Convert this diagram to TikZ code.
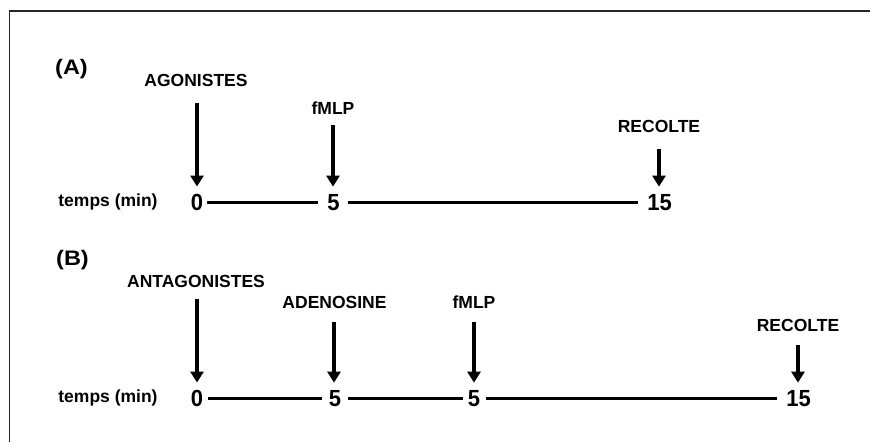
\documentclass[tikz,border=0pt]{standalone}
\usepackage{fontspec}
\setmainfont{Liberation Sans}
\usetikzlibrary{arrows.meta}
\tikzset{
  lbl/.style={font=\fontsize{17.5}{20}\selectfont\bfseries, inner sep=0pt},
  panel/.style={font=\fontsize{21}{24}\selectfont\bfseries, inner sep=0pt, xscale=1.12},
  digit/.style={font=\fontsize{22}{24}\selectfont\bfseries, inner sep=0pt, yscale=1.06},
  arr/.style={line width=3.5pt, -{Triangle[width=13pt,length=11pt]}},
  tline/.style={line width=3.5pt},
  frame/.style={line width=1.3pt, black!85}
}
\begin{document}
\begin{tikzpicture}[x=1pt,y=-1pt]
\useasboundingbox (0,0) rectangle (870,442);
% frame (left and top edges)
\coordinate (fb) at (9.5,442);
\coordinate (fc) at (9.5,11);
\coordinate (fr) at (870,11);
\draw[frame] (fb) -- (fc) -- (fr);

% ---------- Panel A ----------
\node[panel] (pA) at (71.5,69) {(A)};
\node[lbl] (tA) at (108,202) {temps (min)};
\node[lbl] (agon) at (196,80) {AGONISTES};
\node[lbl] (fmlpA) at (333,108) {fMLP};
\node[lbl] (recA) at (659,126) {RECOLTE};
\node[digit] (dA0) at (197,202.5) {0};
\node[digit] (dA1) at (333.5,202.5) {5};
\node[digit] (dA2) at (659.5,202.5) {15};
\coordinate (sA0) at (197,103);
\coordinate (sA1) at (333,125);
\coordinate (sA2) at (659,149);
\draw[arr, shorten >=7.5pt] (sA0) -- (sA0 |- dA0.north);
\draw[arr, shorten >=7.5pt] (sA1) -- (sA1 |- dA1.north);
\draw[arr, shorten >=7.5pt] (sA2) -- (sA2 |- dA2.north);
\draw[tline, shorten <=4pt, shorten >=9pt] (dA0.east) -- (dA1.west);
\draw[tline, shorten <=8pt, shorten >=9pt] (dA1.east) -- (dA2.west);

% ---------- Panel B ----------
\node[panel] (pB) at (72.5,260) {(B)};
\node[lbl] (tB) at (108,398) {temps (min)};
\node[lbl] (antag) at (196,281) {ANTAGONISTES};
\node[lbl] (adeno) at (334.5,302) {ADENOSINE};
\node[lbl] (fmlpB) at (474,302) {fMLP};
\node[lbl] (recB) at (798,325) {RECOLTE};
\node[digit] (dB0) at (197,398.5) {0};
\node[digit] (dB1) at (335,398.5) {5};
\node[digit] (dB2) at (474,398.5) {5};
\node[digit] (dB3) at (798.5,398.5) {15};
\coordinate (sB0) at (197,299);
\coordinate (sB1) at (334,322);
\coordinate (sB2) at (474,322);
\coordinate (sB3) at (798,345);
\draw[arr, shorten >=7.5pt] (sB0) -- (sB0 |- dB0.north);
\draw[arr, shorten >=7.5pt] (sB1) -- (sB1 |- dB1.north);
\draw[arr, shorten >=7.5pt] (sB2) -- (sB2 |- dB2.north);
\draw[arr, shorten >=7.5pt] (sB3) -- (sB3 |- dB3.north);
\draw[tline, shorten <=5pt, shorten >=7pt] (dB0.east) -- (dB1.west);
\draw[tline, shorten <=7pt, shorten >=5pt] (dB1.east) -- (dB2.west);
\draw[tline, shorten <=6pt, shorten >=9pt] (dB2.east) -- (dB3.west);
\end{tikzpicture}
\end{document}
